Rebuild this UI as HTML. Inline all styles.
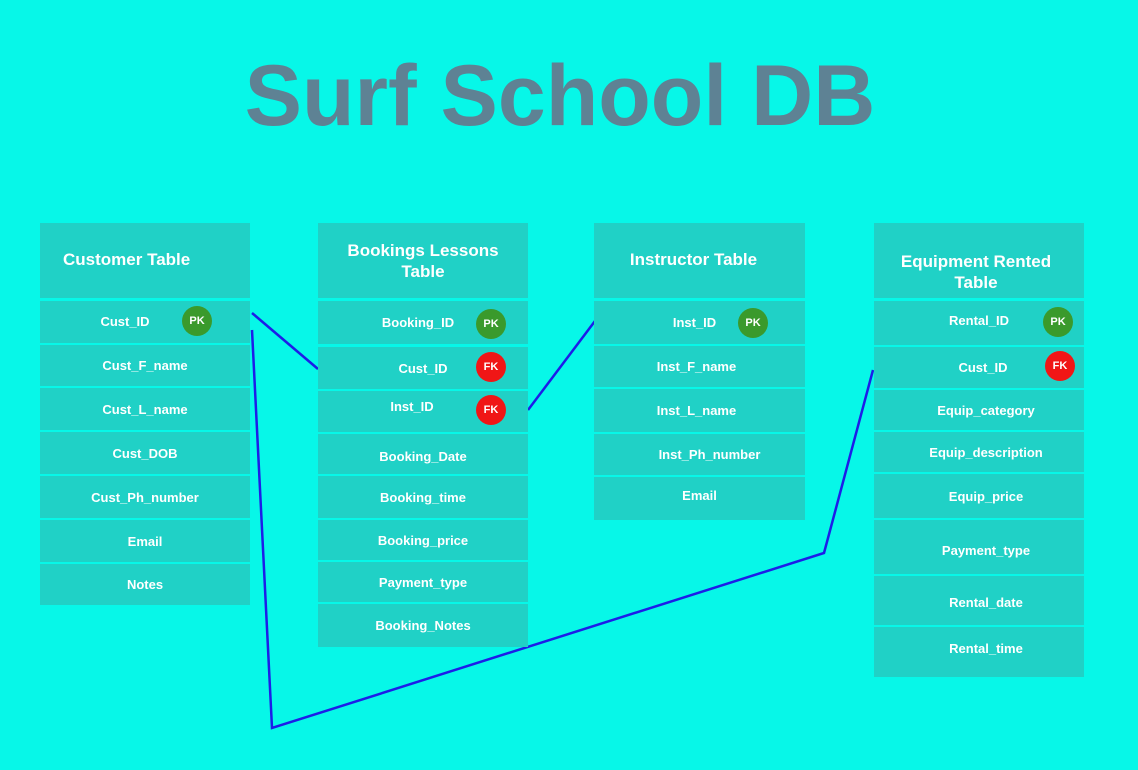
<!DOCTYPE html>
<html><head><style>
body{margin:0;width:1138px;height:770px;background:#07f7e8;position:relative;overflow:hidden;font-family:"Liberation Sans",sans-serif;}
.t{position:absolute;left:0;width:1120px;text-align:center;top:47px;font-size:86px;font-weight:bold;color:#5e8294;letter-spacing:0px}
.b{position:absolute;background:#20d1c6;color:#fff;font-weight:bold;font-size:13px;display:flex;align-items:center;justify-content:center;text-align:center;box-sizing:border-box}
.h{font-size:17px;line-height:21px}
.k{position:absolute;width:30px;height:30px;border-radius:50%;color:#fff;font-size:11px;font-weight:bold;display:flex;align-items:center;justify-content:center}
.pk{background:#3a9a2c}.fk{background:#f01616}
</style></head><body>
<div class="t">Surf School DB</div>
<svg style="position:absolute;left:0;top:0" width="1138" height="770"><g stroke="#1d1de8" stroke-width="2.5" fill="none"><path d="M252 313L318 369"/><path d="M252 330L272 728L824 553L873 370"/><path d="M528 410L595 321"/></g></svg>

<div class="b h" style="left:40px;top:223px;width:210px;height:75px;padding-bottom:2px;justify-content:flex-start;padding-left:23px">Customer Table</div>
<div class="b" style="left:40px;top:301px;width:210px;height:42px;padding-right:40px;padding-bottom:2px">Cust_ID</div>
<div class="b" style="left:40px;top:345px;width:210px;height:41px">Cust_F_name</div>
<div class="b" style="left:40px;top:388px;width:210px;height:42px">Cust_L_name</div>
<div class="b" style="left:40px;top:432px;width:210px;height:42px">Cust_DOB</div>
<div class="b" style="left:40px;top:476px;width:210px;height:42px">Cust_Ph_number</div>
<div class="b" style="left:40px;top:520px;width:210px;height:42px">Email</div>
<div class="b" style="left:40px;top:564px;width:210px;height:41px">Notes</div>

<div class="b h" style="left:318px;top:223px;width:210px;height:75px">Bookings Lessons<br>Table</div>
<div class="b" style="left:318px;top:301px;width:210px;height:43px;padding-right:10px">Booking_ID</div>
<div class="b" style="left:318px;top:347px;width:210px;height:42px">Cust_ID</div>
<div class="b" style="left:318px;top:391px;width:210px;height:41px;padding-bottom:10px;padding-right:22px">Inst_ID</div>
<div class="b" style="left:318px;top:434px;width:210px;height:40px;padding-top:4px">Booking_Date</div>
<div class="b" style="left:318px;top:476px;width:210px;height:42px">Booking_time</div>
<div class="b" style="left:318px;top:520px;width:210px;height:40px">Booking_price</div>
<div class="b" style="left:318px;top:562px;width:210px;height:40px">Payment_type</div>
<div class="b" style="left:318px;top:604px;width:210px;height:43px">Booking_Notes</div>

<div class="b h" style="left:594px;top:223px;width:211px;height:75px;padding-bottom:2px;padding-right:12px">Instructor Table</div>
<div class="b" style="left:594px;top:301px;width:211px;height:43px;padding-right:10px">Inst_ID</div>
<div class="b" style="left:594px;top:346px;width:211px;height:41px;padding-right:6px">Inst_F_name</div>
<div class="b" style="left:594px;top:389px;width:211px;height:43px;padding-right:6px">Inst_L_name</div>
<div class="b" style="left:594px;top:434px;width:211px;height:41px;padding-left:20px">Inst_Ph_number</div>
<div class="b" style="left:594px;top:477px;width:211px;height:43px;padding-bottom:6px">Email</div>

<div class="b h" style="left:874px;top:223px;width:210px;height:75px;padding-top:22px;padding-right:6px">Equipment Rented<br>Table</div>
<div class="b" style="left:874px;top:301px;width:210px;height:44px;padding-bottom:6px">Rental_ID</div>
<div class="b" style="left:874px;top:347px;width:210px;height:41px;padding-left:8px">Cust_ID</div>
<div class="b" style="left:874px;top:390px;width:210px;height:40px;padding-left:14px">Equip_category</div>
<div class="b" style="left:874px;top:432px;width:210px;height:40px;padding-left:14px">Equip_description</div>
<div class="b" style="left:874px;top:474px;width:210px;height:44px;padding-left:14px">Equip_price</div>
<div class="b" style="left:874px;top:520px;width:210px;height:54px;padding-top:6px;padding-left:14px">Payment_type</div>
<div class="b" style="left:874px;top:576px;width:210px;height:49px;padding-top:4px;padding-left:14px">Rental_date</div>
<div class="b" style="left:874px;top:627px;width:210px;height:50px;padding-bottom:8px;padding-left:14px">Rental_time</div>

<div class="k pk" style="left:182px;top:306px">PK</div>
<div class="k pk" style="left:476px;top:309px">PK</div>
<div class="k fk" style="left:476px;top:352px">FK</div>
<div class="k fk" style="left:476px;top:395px">FK</div>
<div class="k pk" style="left:738px;top:308px">PK</div>
<div class="k pk" style="left:1043px;top:307px">PK</div>
<div class="k fk" style="left:1045px;top:351px">FK</div>
</body></html>
